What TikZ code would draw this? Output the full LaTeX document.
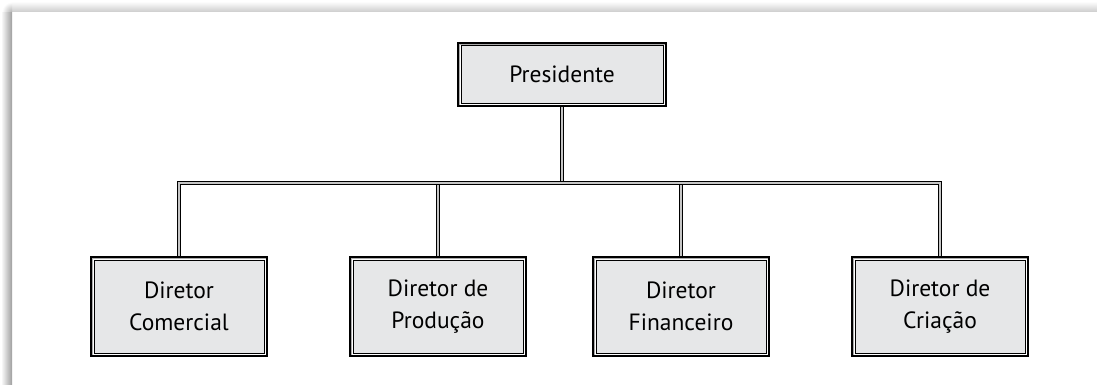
\documentclass[tikz,border=0pt]{standalone}
\usepackage{fontspec}
\setmainfont{PT Sans}
\definecolor{boxfill}{RGB}{230,231,232}
\begin{document}
\begin{tikzpicture}[x=1pt,y=-1pt,
  orgbox/.style={draw=black, line width=1.9pt, fill=boxfill, inner sep=0pt,
    align=center, font=\fontsize{23.5}{32}\selectfont},
  topbox/.style={orgbox, minimum width=208pt, minimum height=63pt},
  subbox/.style={orgbox, minimum width=176pt, minimum height=99pt},
  conn/.style={draw=black, line width=1.2pt, double=gray!45, double distance=1.2pt}]
\useasboundingbox (0,0) rectangle (1097,385);
% panel shadow
\shade[left color=white, right color=black!38] (1,12) rectangle (12,385);
\shade[top color=black!3, bottom color=black!20] (12,3) rectangle (1097,12);
\begin{scope}
  \clip (1,3) rectangle (12,12);
  \shade[inner color=black!30, outer color=white] (12,12) circle (10);
\end{scope}
% boxes
\node[topbox] (pres) at (562,74.5) {Presidente};
\node[subbox] (b1) at (179,306.5) {Diretor\\Comercial};
\node[subbox] (b2) at (438,306.5) {Diretor de\\Produção};
\node[subbox] (b3) at (681,306.5) {Diretor\\Financeiro};
\node[subbox] (b4) at (940,306.5) {Diretor de\\Criação};
\foreach \n in {pres,b1,b2,b3,b4}{
  \draw[gray!65, line width=1pt] ([shift={(2.4,2.4)}]\n.north west) rectangle ([shift={(-2.4,-2.4)}]\n.south east);
  \draw[white, line width=0.5pt] ([shift={(3.15,3.15)}]\n.north west) rectangle ([shift={(-3.15,-3.15)}]\n.south east);
  \draw[black, line width=0.7pt] ([shift={(3.8,3.8)}]\n.north west) rectangle ([shift={(-3.8,-3.8)}]\n.south east);
}
% connectors
\coordinate (bar) at (0,183);
\draw[conn] (pres.south) -- (pres.south |- bar);
\draw[conn] (b2.north) -- (b2.north |- bar);
\draw[conn] (b3.north) -- (b3.north |- bar);
\draw[conn] (b1.north) -- (b1.north |- bar) -- (b4.north |- bar) -- (b4.north);
\end{tikzpicture}
\end{document}
